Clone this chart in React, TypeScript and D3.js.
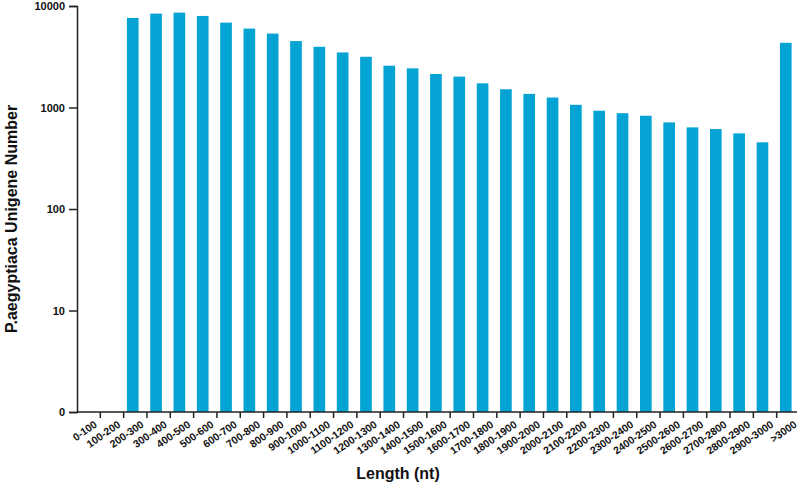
import React, { useEffect, useRef } from "react";
import * as d3 from "d3";

const categories = [
  "0-100", "100-200", "200-300", "300-400", "400-500", "500-600", "600-700",
  "700-800", "800-900", "900-1000", "1000-1100", "1100-1200", "1200-1300",
  "1300-1400", "1400-1500", "1500-1600", "1600-1700", "1700-1800", "1800-1900",
  "1900-2000", "2000-2100", "2100-2200", "2200-2300", "2300-2400", "2400-2500",
  "2500-2600", "2600-2700", "2700-2800", "2800-2900", "2900-3000", ">3000",
];

const unigeneCounts = [
  0, 0, 7630, 8410, 8600, 7980, 6860, 5990, 5350, 4510, 3965, 3485, 3160,
  2580, 2430, 2140, 2014, 1730, 1512, 1362, 1254, 1063, 929, 879, 829, 713,
  637, 613, 556, 454, 4340,
];

const yTicks = [1, 10, 100, 1000, 10000];
const yTickLabels = ["0", "10", "100", "1000", "10000"];

const width = 800;
const height = 491;

function App() {
  const ref = useRef<SVGSVGElement>(null);

  useEffect(() => {
    document.body.style.margin = "0";
    const svg = d3.select(ref.current);
    svg.selectAll("*").remove();

    const left = 77, right = 800, top = 6, bottom = 412;
    const font = "'Liberation Sans', Arial, sans-serif";

    const x = d3.scaleBand().domain(categories).range([left, right]).padding(0);
    const y = d3.scaleLog().domain([1, 10000]).range([bottom, top]);
    const bw = x.bandwidth();

    // bars (zero counts drawn as nothing)
    svg.append("g")
      .selectAll("rect")
      .data(categories.map((c, i) => ({ c, v: unigeneCounts[i] })).filter(d => d.v > 0))
      .enter()
      .append("rect")
      .attr("x", d => (x(d.c) as number) + bw * 0.14)
      .attr("width", bw * 0.5)
      .attr("y", d => y(d.v))
      .attr("height", d => bottom - y(d.v))
      .attr("fill", "#03a3d4");

    // y axis
    const yAxis = d3.axisLeft(y)
      .tickValues(yTicks)
      .tickFormat((d, i) => yTickLabels[i])
      .tickSizeOuter(0)
      .tickSize(8)
      .tickPadding(4);
    const gy = svg.append("g").attr("transform", `translate(${left},0)`).call(yAxis);
    gy.select(".domain").attr("stroke", "#222").attr("stroke-width", 1.5);
    gy.selectAll(".tick line").attr("stroke", "#222").attr("stroke-width", 1.5);
    gy.selectAll(".tick text")
      .attr("font-family", font)
      .attr("font-weight", "bold")
      .attr("font-size", 11)
      .attr("fill", "#111");

    // x axis with ticks at the band boundaries
    svg.append("line")
      .attr("x1", left).attr("x2", right - 3)
      .attr("y1", bottom).attr("y2", bottom)
      .attr("stroke", "#222").attr("stroke-width", 1.5);
    svg.append("g")
      .selectAll("line")
      .data(categories.slice(1))
      .enter()
      .append("line")
      .attr("x1", d => x(d) as number)
      .attr("x2", d => x(d) as number)
      .attr("y1", bottom)
      .attr("y2", bottom + 6)
      .attr("stroke", "#222").attr("stroke-width", 1.5);

    svg.append("g")
      .selectAll("text")
      .data(categories)
      .enter()
      .append("text")
      .attr("transform", d => `translate(${(x(d) as number) + bw / 2 + 5},${bottom + 8}) rotate(-35)`)
      .attr("text-anchor", "end")
      .attr("dy", "0.7em")
      .attr("font-family", font)
      .attr("font-weight", "bold")
      .attr("font-size", 10.5)
      .attr("fill", "#111")
      .text(d => d);

    // titles
    svg.append("text")
      .attr("transform", `translate(17,${(top + bottom) / 2 + 10}) rotate(-90)`)
      .attr("text-anchor", "middle")
      .attr("font-family", font)
      .attr("font-weight", "bold")
      .attr("font-size", 16)
      .attr("fill", "#111")
      .text("P.aegyptiaca Unigene Number");

    svg.append("text")
      .attr("x", 398)
      .attr("y", 479)
      .attr("text-anchor", "middle")
      .attr("font-family", font)
      .attr("font-weight", "bold")
      .attr("font-size", 16)
      .attr("fill", "#111")
      .text("Length (nt)");
  }, []);

  return <svg ref={ref} width={width} height={height} style={{ display: "block", background: "#fff" }} />;
}

export default App;
